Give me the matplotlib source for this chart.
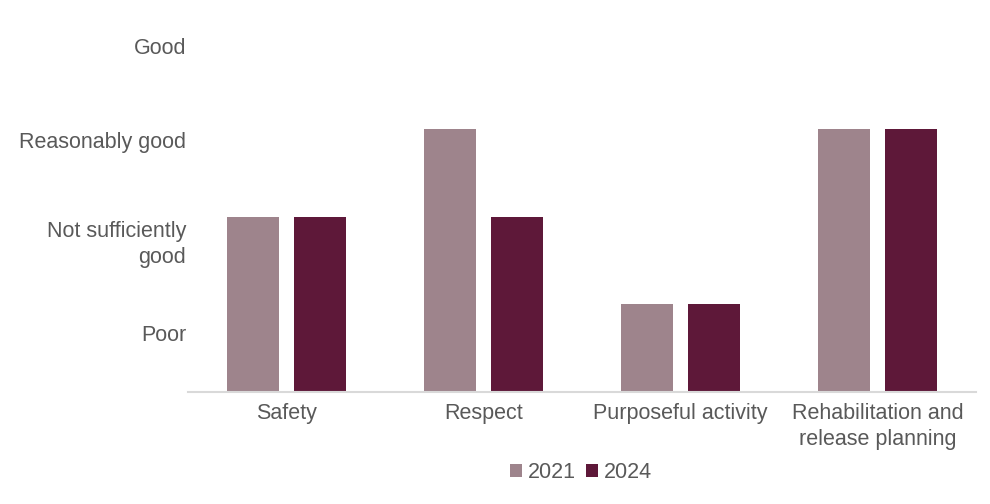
import matplotlib
matplotlib.use("Agg")
import matplotlib.pyplot as plt
import numpy as np

categories = ["Safety", "Respect", "Purposeful activity", "Rehabilitation and\nrelease planning"]
series_names = ["2021", "2024"]
values_2021 = [2, 3, 1, 3]
values_2024 = [2, 2, 1, 3]
rating_labels = ["Poor", "Not sufficiently\ngood", "Reasonably good", "Good"]
rating_ticks = [0.67, 1.74, 2.88, 3.95]

c2021 = "#9e848c"
c2024 = "#5e1839"
txt = "#595959"

plt.rcParams['font.family'] = ['Liberation Sans', 'DejaVu Sans']
fig = plt.figure(figsize=(9.9, 5.04), dpi=100)
ax = fig.add_axes([0.19, 0.222, 0.796, 0.774])

x = np.arange(len(categories))
w = 0.265
off = 0.17
ax.bar(x - off, values_2021, width=w, color=c2021, label=series_names[0])
ax.bar(x + off, values_2024, width=w, color=c2024, label=series_names[1])

ax.set_xlim(-0.5, len(categories) - 0.5)
ax.set_ylim(0, 4.45)
ax.set_xticks(x)
ax.set_xticklabels(categories, fontsize=15.5, color=txt, linespacing=1.3)
ax.set_yticks(rating_ticks)
ax.set_yticklabels(rating_labels, fontsize=15.5, color=txt, linespacing=1.3)
ax.tick_params(axis='both', length=0)
ax.tick_params(axis='y', pad=1.5)
ax.tick_params(axis='x', pad=8)
for s in ["top", "right", "left"]:
    ax.spines[s].set_visible(False)
ax.spines["bottom"].set_color("#d9d9d9")
ax.spines["bottom"].set_linewidth(1.5)

leg = fig.legend(loc='center', bbox_to_anchor=(0.587, 0.063), ncol=2, frameon=False,
                 fontsize=15.5, handlelength=0.55, handleheight=0.55, handletextpad=0.25,
                 columnspacing=0.5, borderpad=0)
for t in leg.get_texts():
    t.set_color(txt)

fig.savefig("out.png", dpi=100)
